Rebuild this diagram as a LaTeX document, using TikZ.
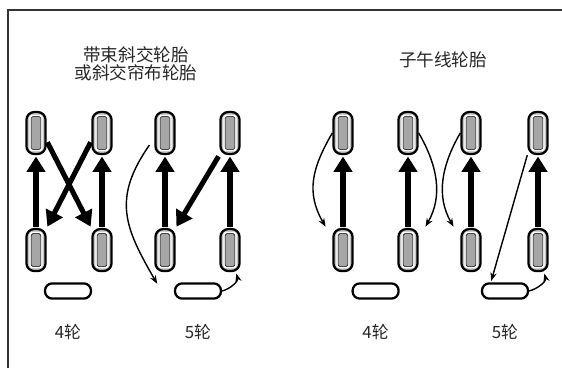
\documentclass[tikz,border=0pt]{standalone}
\usepackage{fontspec}
\newfontfamily\cjk{Noto Sans CJK SC}
\usepackage{tikz}
\usetikzlibrary{arrows.meta,positioning}

\begin{document}
\begin{tikzpicture}[
  tire/.style={rectangle, draw=black, line width=1.6pt, fill=gray!45, rounded corners=0.2cm, minimum width=0.48cm, minimum height=1.05cm, inner sep=0pt,
    path picture={\draw[white, line width=1.1pt, fill=gray!70, rounded corners=1.5pt] ([shift={(2.6pt,2.6pt)}]path picture bounding box.south west) rectangle ([shift={(-2.6pt,-2.6pt)}]path picture bounding box.north east);
      \draw[black, line width=0.35pt, rounded corners=1.2pt] ([shift={(3.3pt,3.3pt)}]path picture bounding box.south west) rectangle ([shift={(-3.3pt,-3.3pt)}]path picture bounding box.north east);}},
  spare/.style={rectangle, draw=black, line width=1.6pt, fill=white, rounded corners=0.18cm, minimum width=1.15cm, minimum height=0.38cm, inner sep=0pt},
  title/.style={font=\cjk\fontsize{12.5}{12.5}\selectfont, text=black!85, align=center, inner sep=0pt},
  countlbl/.style={font=\cjk\fontsize{12}{12}\selectfont, text=black!85, inner sep=0pt},
  bigarrow/.style={-{Triangle[width=13pt,length=11pt]}, line width=3.6pt, shorten >=1pt, shorten <=1pt},
  thinarrow/.style={-{Stealth[length=6pt,width=4.5pt]}, line width=1pt, shorten >=1pt},
  frameline/.style={line width=1.2pt, color=black!80}
]
\useasboundingbox (0,0) rectangle (14.05,9.2);

% Frame
\draw[frameline] (0.2,0) -- (0.2,8.95) -- (14.05,8.95);

% Titles
\node[title] (biastitle) at (3.4,7.61) {带束斜交轮胎\\或斜交帘布轮胎};
\node[title] (radialtitle) at (11.075,7.7) {子午线轮胎};

% Bias: 4 wheels
\node[tire] (l4tl) at (0.9,5.875) {};
\node[tire] (l4tr) at (2.55,5.875) {};
\node[tire, below=1.82cm of l4tl] (l4bl) {};
\node[tire, below=1.82cm of l4tr] (l4br) {};
\node[spare] (l4sp) at (1.7,1.925) {};
\node[countlbl, below=0.6cm of l4sp] (l4lbl) {4轮};

\draw[bigarrow] (l4bl.north) -- (l4tl.south);
\draw[bigarrow] (l4br.north) -- (l4tr.south);
\draw[bigarrow] ([yshift=-0.2cm]l4tl.east) -- (l4br.north west);
\draw[bigarrow] ([yshift=-0.2cm]l4tr.west) -- (l4bl.north east);

% Bias: 5 wheels
\node[tire] (l5tl) at (4.125,5.875) {};
\node[tire] (l5tr) at (5.75,5.875) {};
\node[tire, below=1.82cm of l5tl] (l5bl) {};
\node[tire, below=1.82cm of l5tr] (l5br) {};
\node[spare] (l5sp) at (4.95,1.925) {};
\node[countlbl, below=0.6cm of l5sp] (l5lbl) {5轮};

\draw[bigarrow] (l5bl.north) -- (l5tl.south);
\draw[bigarrow] (l5br.north) -- (l5tr.south);
\draw[bigarrow] (l5tr.south west) -- (l5bl.north east);
\draw[thinarrow] ([xshift=-0.12cm,yshift=-0.3cm]l5tl.west) to[out=235,in=120,looseness=1.2] ([xshift=-0.4cm,yshift=0.15cm]l5sp.west);
\draw[thinarrow] (l5sp.east) to[out=15,in=-75] ([xshift=0.15cm]l5br.south);

% Radial: 4 wheels
\node[tire] (r4tl) at (8.575,5.875) {};
\node[tire] (r4tr) at (10.2,5.875) {};
\node[tire, below=1.82cm of r4tl] (r4bl) {};
\node[tire, below=1.82cm of r4tr] (r4br) {};
\node[spare] (r4sp) at (9.39,1.925) {};
\node[countlbl, below=0.6cm of r4sp] (r4lbl) {4轮};

\draw[bigarrow] (r4bl.north) -- (r4tl.south);
\draw[bigarrow] (r4br.north) -- (r4tr.south);
\draw[thinarrow] (r4tl.west) to[out=240,in=120,looseness=1.1] ([xshift=-0.15cm]r4bl.north west);
\draw[thinarrow] (r4tr.east) to[out=-60,in=60] ([xshift=0.15cm]r4br.north east);

% Radial: 5 wheels
\node[tire] (r5tl) at (11.775,5.875) {};
\node[tire] (r5tr) at (13.45,5.875) {};
\node[tire, below=1.82cm of r5tl] (r5bl) {};
\node[tire, below=1.82cm of r5tr] (r5br) {};
\node[spare] (r5sp) at (12.625,1.925) {};
\node[countlbl, below=0.6cm of r5sp] (r5lbl) {5轮};

\draw[bigarrow] (r5bl.north) -- (r5tl.south);
\draw[bigarrow] (r5br.north) -- (r5tr.south);
\draw[thinarrow] (r5tl.west) to[out=240,in=120] ([xshift=-0.15cm]r5bl.north west);
\draw[thinarrow] (r5tr.south west) -- ([xshift=0.25cm]r5sp.north west);
\draw[thinarrow] (r5sp.east) to[out=15,in=-75] ([xshift=0.15cm]r5br.south);

\end{tikzpicture}
\end{document}
